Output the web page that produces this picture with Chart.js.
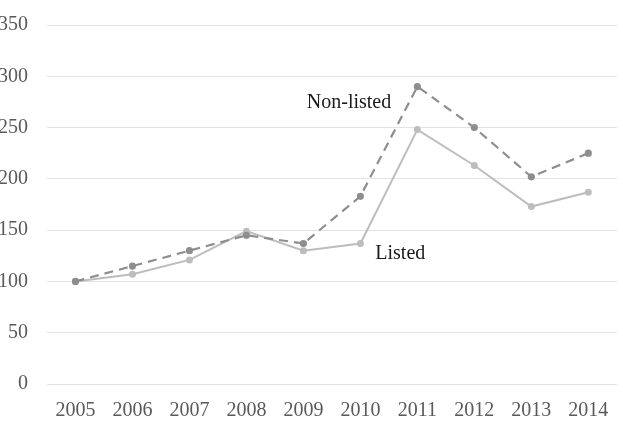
<!DOCTYPE html>
<html>
<head>
<meta charset="utf-8">
<script src="https://cdn.jsdelivr.net/npm/chart.js@4"></script>
<style>
    body { margin: 0; background: #fff; }
    #wrap { width: 623px; height: 436px; }
</style>
</head>
<body>
<div id="wrap"><canvas id="indexChart"></canvas></div>
<script>
const years = ['2005', '2006', '2007', '2008', '2009', '2010', '2011', '2012', '2013', '2014'];
const nonListed = [100, 115, 130, 145, 137, 183, 290, 250, 202, 225];
const listed = [100, 107, 121, 149, 130, 137, 248, 213, 173, 187];
const yTicks = [0, 50, 100, 150, 200, 250, 300, 350];

const serif = '"Liberation Serif", "Times New Roman", serif';

// text labels next to the lines, placed in data coordinates
const seriesLabels = {
    id: 'seriesLabels',
    afterDatasetsDraw(chart) {
        const { ctx, scales: { x, y } } = chart;
        ctx.save();
        ctx.font = '20px ' + serif;
        ctx.fillStyle = '#1a1a1a';
        ctx.textAlign = 'center';
        ctx.textBaseline = 'middle';
        ctx.fillText('Non-listed', x.getPixelForValue(4.8), y.getPixelForValue(274));
        ctx.fillText('Listed', x.getPixelForValue(5.7), y.getPixelForValue(127));
        ctx.restore();
    }
};

const ctx = document.getElementById('indexChart');
new Chart(ctx, {
    type: 'line',
    data: {
        labels: years,
        datasets: [{
            label: 'Non-listed',
            data: nonListed,
            borderColor: '#8e8e8e',
            backgroundColor: '#8e8e8e',
            borderWidth: 2.2,
            borderDash: [9, 6],
            pointRadius: 2.5,
            tension: 0,
        }, {
            label: 'Listed',
            data: listed,
            borderColor: '#bdbdbd',
            backgroundColor: '#bdbdbd',
            borderWidth: 2,
            pointRadius: 2.5,
            tension: 0,
        }]
    },
    options: {
        responsive: true,
        maintainAspectRatio: false,
        animation: false,
        layout: {
            padding: { top: 25, right: 1, left: 0, bottom: 6 }
        },
        scales: {
            x: {
                offset: true,
                grid: { display: false, offset: true },
                border: { display: false },
                ticks: {
                    color: '#595959',
                    padding: 7,
                    maxRotation: 0,
                    font: { size: 20, family: serif }
                }
            },
            y: {
                min: 0,
                max: 350,
                afterBuildTicks: (scale) => {
                    scale.ticks = yTicks.map(v => ({ value: v }));
                },
                afterFit: (scale) => {
                    scale.width = 47;
                },
                border: { display: false },
                grid: {
                    color: '#e3e3e3',
                    drawTicks: false,
                },
                ticks: {
                    color: '#595959',
                    padding: 19,
                    font: { size: 20, family: serif, lineHeight: 0.5 }
                }
            }
        },
        plugins: {
            legend: { display: false },
            title: { display: false },
            tooltip: { enabled: false }
        }
    },
    plugins: [seriesLabels]
});
</script>
</body>
</html>
